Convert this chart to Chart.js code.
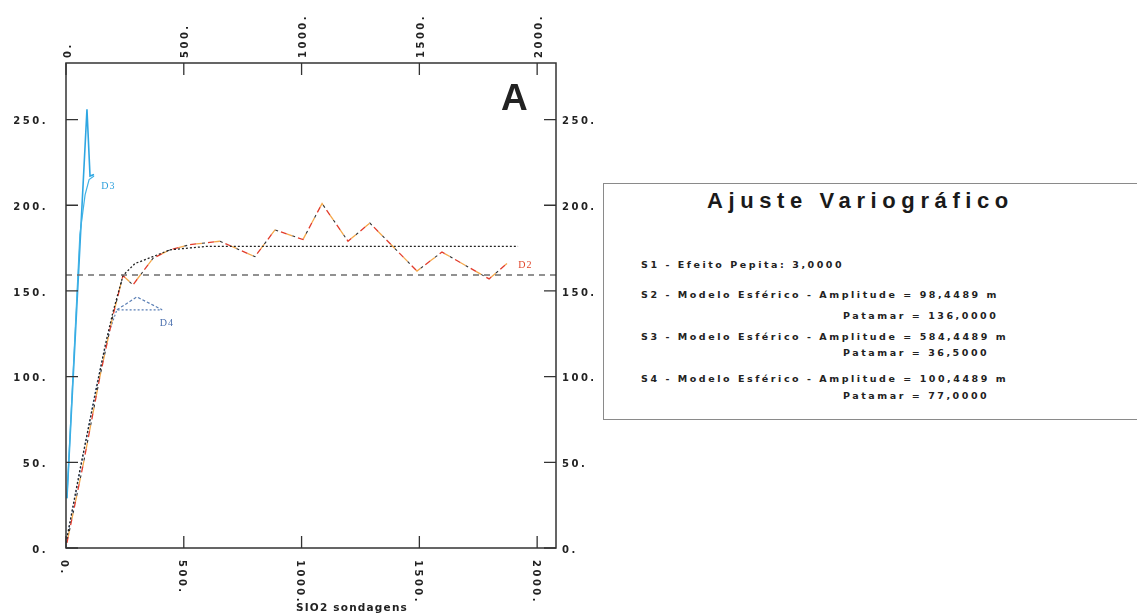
<!DOCTYPE html>
<html>
<head>
<meta charset="utf-8">
<script src="https://cdn.jsdelivr.net/npm/chart.js@4"></script>
<style>
  body { margin: 0; background: #fff; width: 1137px; height: 615px; overflow: hidden; position: relative; }
  #grafico { position: absolute; left: 0; top: 0; width: 600px; height: 615px; }
  #quadro { position: absolute; left: 603px; top: 183px; width: 540px; height: 237px;
            border: 1px solid #8a8a8a; box-sizing: border-box; }
  .txt { position: absolute; font-family: "DejaVu Sans", sans-serif; font-weight: bold;
         color: #222; white-space: nowrap; font-size: 9.5px; letter-spacing: 2.55px; line-height: 14px; }
  .titulo { font-family: Arial, "Liberation Sans", sans-serif; font-size: 22px; letter-spacing: 5.6px;
            line-height: 24px; color: #1a1a1a; }
</style>
</head>
<body>
<div id="grafico"><canvas id="variograma" width="600" height="615"></canvas></div>
<div id="quadro"></div>
<div class="txt titulo" style="left:707px; top:189px;">Ajuste Variográfico</div>
<div class="txt" style="left:641px; top:258px;">S1 - Efeito Pepita: 3,0000</div>
<div class="txt" style="left:641px; top:288px;">S2 - Modelo Esférico - Amplitude = 98,4489 m</div>
<div class="txt" style="left:843px; top:309px;">Patamar = 136,0000</div>
<div class="txt" style="left:641px; top:330px;">S3 - Modelo Esférico - Amplitude = 584,4489 m</div>
<div class="txt" style="left:843px; top:346px;">Patamar = 36,5000</div>
<div class="txt" style="left:641px; top:372px;">S4 - Modelo Esférico - Amplitude = 100,4489 m</div>
<div class="txt" style="left:843px; top:389px;">Patamar = 77,0000</div>
<script>
// distancias (m) e valores do variograma
const distD2 = [4, 72, 144, 200, 242, 284, 369, 441, 526, 654, 802, 887, 1006, 1087, 1197, 1290, 1490, 1596, 1796, 1872];
const gamaD2 = [3, 48, 100, 136, 159, 153.5, 169, 174, 177, 179, 170, 185.6, 180, 201, 179, 189.6, 161.6, 172.7, 157, 166];

const distModelo = [0, 59, 123, 166, 200, 242, 293, 369, 441, 598, 1919];
const gamaModelo = [3, 45.5, 89, 118, 138, 159, 166, 170, 174, 176, 176];

const distD3 = [4, 89, 102, 119];
const gamaD3 = [29, 256, 217, 218];
const distD3Modelo = [4, 59, 81, 98, 119];
const gamaD3Modelo = [29, 183, 206, 215, 217];

const distD4 = [216, 301, 408];
const gamaD4 = [139, 146.5, 139];
const distD4Modelo = [4, 60, 130, 180, 216, 408];
const gamaD4Modelo = [5, 45, 95, 125, 139, 139];

const distVariancia = [0, 2080];
const gamaVariancia = [159.3, 159.3];

const ticksX = [0, 500, 1000, 1500, 2000];
const ticksY = [0, 50, 100, 150, 200, 250];

const pontos = (xs, ys) => xs.map((x, i) => ({ x: x, y: ys[i] }));

function serie(xs, ys, cor, tracejado, largura, offset) {
    return {
        data: pontos(xs, ys),
        showLine: true,
        borderColor: cor,
        borderWidth: largura,
        borderDash: tracejado,
        borderDashOffset: offset || 0,
        pointRadius: 0,
        tension: 0,
        fill: false
    };
}

const FONTE = 'bold 10px "DejaVu Sans", sans-serif';

const moldura = {
    id: 'moldura',
    afterDraw(chart) {
        const ctx = chart.ctx;
        const a = chart.chartArea;
        const sx = chart.scales.x, sy = chart.scales.y;
        ctx.save();
        ctx.strokeStyle = '#333';
        ctx.lineWidth = 1.5;
        ctx.strokeRect(a.left, a.top, a.right - a.left, a.bottom - a.top);

        // marcas internas
        ctx.lineWidth = 1.3;
        ctx.beginPath();
        ticksX.forEach(v => {
            const px = sx.getPixelForValue(v);
            ctx.moveTo(px, a.top); ctx.lineTo(px, a.top + 12);
            ctx.moveTo(px, a.bottom); ctx.lineTo(px, a.bottom - 12);
        });
        ticksY.forEach(v => {
            const py = sy.getPixelForValue(v);
            ctx.moveTo(a.left, py); ctx.lineTo(a.left + 12, py);
            ctx.moveTo(a.right, py); ctx.lineTo(a.right - 12, py);
        });
        ctx.stroke();

        ctx.fillStyle = '#222';
        ctx.font = FONTE;
        ctx.letterSpacing = '2.5px';
        ctx.textBaseline = 'middle';
        ticksY.forEach(v => {
            const py = sy.getPixelForValue(v) + 2;
            ctx.textAlign = 'right';
            ctx.fillText(v + '.', 48, py);
            ctx.textAlign = 'left';
            ctx.fillText(v + '.', a.right + 6, py);
        });
        ticksX.forEach(v => {
            const px = sx.getPixelForValue(v);
            // topo: lido de baixo para cima
            ctx.save();
            ctx.translate(px + 2, 58);
            ctx.rotate(-Math.PI / 2);
            ctx.textAlign = 'left';
            ctx.fillText(v + '.', 0, 0);
            ctx.restore();
            // base: lido de cima para baixo
            ctx.save();
            ctx.translate(px - 2, a.bottom + 12);
            ctx.rotate(Math.PI / 2);
            ctx.textAlign = 'left';
            ctx.fillText(v + '.', 0, 0);
            ctx.restore();
        });

        ctx.letterSpacing = '1.2px';
        ctx.textAlign = 'center';
        ctx.font = 'bold 10.5px "DejaVu Sans", sans-serif';
        ctx.fillText('SIO2 sondagens', (a.left + a.right) / 2 + 41, 608);

        ctx.letterSpacing = '0px';
        ctx.textAlign = 'left';
        ctx.textBaseline = 'alphabetic';
        ctx.font = 'bold 37px Arial, "Liberation Sans", sans-serif';
        ctx.fillText('A', 501, 110);

        // rotulos das curvas
        ctx.font = '10px "Liberation Serif", serif';
        ctx.letterSpacing = '1px';
        ctx.textBaseline = 'middle';
        ctx.fillStyle = '#2ea0dc';
        ctx.fillText('D3', sx.getPixelForValue(150), sy.getPixelForValue(211));
        ctx.fillStyle = '#4a6fae';
        ctx.fillText('D4', sx.getPixelForValue(398), sy.getPixelForValue(131));
        ctx.fillStyle = '#e0452a';
        ctx.fillText('D2', sx.getPixelForValue(1920), sy.getPixelForValue(165));
        ctx.restore();
    }
};

new Chart(document.getElementById('variograma'), {
    type: 'scatter',
    data: {
        datasets: [
            serie(distVariancia, gamaVariancia, '#6e6e6e', [6, 5], 1.5),
            serie(distModelo, gamaModelo, '#222222', [2, 2], 1.3),
            serie(distD2, gamaD2, '#e23b2a', [6, 12], 1.3, 0),
            serie(distD2, gamaD2, '#f5a84a', [6, 12], 1.3, 12),
            serie(distD2, gamaD2, '#333333', [3, 15], 1.1, 6),
            serie(distD4Modelo, gamaD4Modelo, '#5a7fb5', [2, 2], 1.2),
            serie(distD4, gamaD4, '#5a7fb5', [3, 2], 1.2),
            serie(distD3Modelo, gamaD3Modelo, '#3fb2e6', [], 1.2),
            serie(distD3, gamaD3, '#2ea6e2', [], 1.6)
        ]
    },
    options: {
        responsive: false,
        animation: false,
        layout: { padding: { left: 66, top: 63, right: 44, bottom: 67 } },
        plugins: { legend: { display: false }, tooltip: { enabled: false } },
        scales: {
            x: { type: 'linear', min: 0, max: 2080, display: false },
            y: { type: 'linear', min: 0, max: 283, display: false }
        }
    },
    plugins: [moldura]
});
</script>
</body>
</html>
